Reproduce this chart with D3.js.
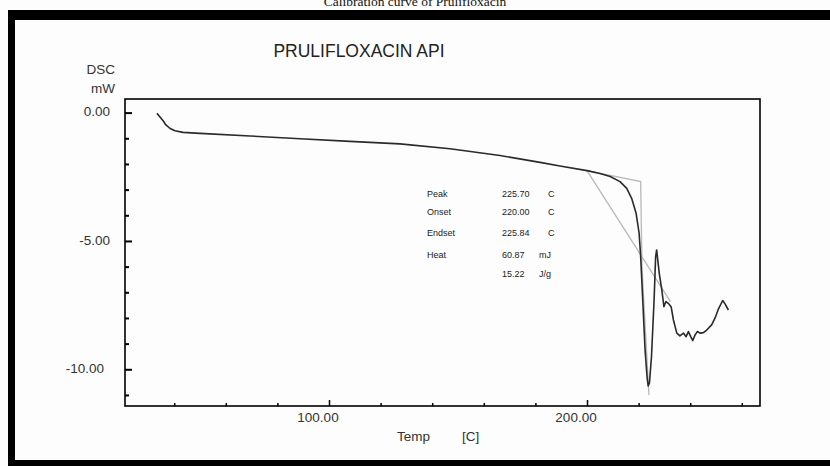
<!DOCTYPE html>
<html>
<head>
<meta charset="utf-8">
<script src="https://cdn.jsdelivr.net/npm/d3@7"></script>
<style>
  html, body { margin: 0; padding: 0; background: #fdfdfd; }
  svg { display: block; }
</style>
</head>
<body>
<svg id="chart" width="830" height="466"></svg>
<script>
// DSC thermogram: temperature (C) vs heat flow (mW)
const temps = [33.3, 34.5, 35.7, 36.8, 38.4, 40.3, 43.4, 50.0, 69.4, 88.8, 108.1, 127.5, 146.9, 166.3,
  181.8, 189.5, 200.0, 205.0, 209.0, 212.8, 215.4, 217.3, 219.0, 220.2, 220.8, 221.6, 222.5, 223.3,
  223.7, 224.2, 225.0, 226.0, 226.6, 227.0, 228.0, 229.0, 229.8, 230.6, 231.5, 232.6, 233.5, 234.8,
  236.0, 237.4, 238.4, 239.3, 240.2, 241.0, 241.9, 242.8, 243.8, 245.1, 246.4, 248.3, 249.6, 250.9,
  252.6, 253.5, 254.8];
const heatFlow = [-0.03, -0.17, -0.32, -0.48, -0.62, -0.71, -0.77, -0.81, -0.91, -1.02, -1.12, -1.22, -1.41, -1.67,
  -1.94, -2.08, -2.26, -2.37, -2.49, -2.69, -2.95, -3.34, -3.91, -4.70, -5.61, -7.30, -9.24, -10.33,
  -10.65, -10.53, -9.50, -7.30, -5.61, -5.35, -6.26, -6.91, -7.56, -7.36, -7.43, -7.56, -8.08, -8.59,
  -8.70, -8.59, -8.73, -8.53, -8.73, -8.88, -8.66, -8.53, -8.59, -8.57, -8.47, -8.27, -8.01, -7.66,
  -7.32, -7.45, -7.69];

// Construction lines used for onset / peak evaluation
const baselineTemps = [200.0, 220.8, 221.3, 224.0];
const baselineFlow = [-2.26, -2.69, -6.0, -11.0];
const tangentTemps = [200.0, 232.4];
const tangentFlow = [-2.26, -7.37];

// Axis ticks
const xMajorTicks = [100, 200];
const xMinorTicks = [40, 60, 80, 120, 140, 160, 180, 220, 240, 260];
const yMajorTicks = [0, -5, -10];
const yMinorTicks = [-1, -2, -3, -4, -6, -7, -8, -9, -11];

// Result table
const resultNames = ["Peak", "Onset", "Endset", "Heat", ""];
const resultValues = ["225.70", "220.00", "225.84", "60.87", "15.22"];
const resultUnits = ["C", "C", "C", "mJ", "J/g"];

const caption = "Calibration curve of Prulifloxacin";
const chartTitle = "PRULIFLOXACIN API";

const svg = d3.select("#chart");
const sans = "'Liberation Sans', Arial, sans-serif";

// Page background and scanned frame
svg.append("rect").attr("width", 830).attr("height", 466).attr("fill", "#fdfdfd");
svg.append("text")
  .attr("x", 415).attr("y", 5.5)
  .attr("text-anchor", "middle")
  .attr("font-family", "'Liberation Serif', 'Times New Roman', serif")
  .attr("font-size", 13.5)
  .attr("fill", "#111")
  .text(caption);
svg.append("rect").attr("x", 8).attr("y", 10).attr("width", 822).attr("height", 10).attr("fill", "#000");
svg.append("rect").attr("x", 8).attr("y", 10).attr("width", 7).attr("height", 456).attr("fill", "#000");
svg.append("rect").attr("x", 8).attr("y", 460).attr("width", 822).attr("height", 6).attr("fill", "#000");

// Plot area
const plot = { left: 125, right: 760, top: 99, bottom: 406 };
const x = d3.scaleLinear().domain([20.93, 267.05]).range([plot.left, plot.right]);
const y = d3.scaleLinear().domain([0.53, -11.43]).range([plot.top, plot.bottom]);

svg.append("text")
  .attr("x", 359).attr("y", 52)
  .attr("text-anchor", "middle").attr("dominant-baseline", "middle")
  .attr("font-family", sans).attr("font-size", 17.5).attr("fill", "#222")
  .text(chartTitle);

// Y axis title
svg.append("text").attr("x", 115).attr("y", 70)
  .attr("text-anchor", "end").attr("dominant-baseline", "middle")
  .attr("font-family", sans).attr("font-size", 13.5).attr("fill", "#333").text("DSC");
svg.append("text").attr("x", 115).attr("y", 89)
  .attr("text-anchor", "end").attr("dominant-baseline", "middle")
  .attr("font-family", sans).attr("font-size", 13.5).attr("fill", "#333").text("mW");

// Axes: ticks point into the plot
const yAxisMajor = d3.axisRight(y).tickValues(yMajorTicks).tickSize(7).tickFormat("");
const yAxisMinor = d3.axisRight(y).tickValues(yMinorTicks).tickSize(4).tickFormat("");
const xAxisMajor = d3.axisTop(x).tickValues(xMajorTicks).tickSize(6).tickFormat("");
const xAxisMinor = d3.axisTop(x).tickValues(xMinorTicks).tickSize(3).tickFormat("");

[yAxisMajor, yAxisMinor].forEach(ax => {
  const g = svg.append("g").attr("transform", `translate(${plot.left},0)`).call(ax);
  g.select(".domain").remove();
  g.selectAll("line").attr("stroke", "#000").attr("stroke-width", 2);
});
[xAxisMajor, xAxisMinor].forEach(ax => {
  const g = svg.append("g").attr("transform", `translate(0,${plot.bottom})`).call(ax);
  g.select(".domain").remove();
  g.selectAll("line").attr("stroke", "#000").attr("stroke-width", 1.5);
});

// Tick labels
svg.append("g").selectAll("text").data(yMajorTicks).join("text")
  .attr("x", d => d <= -10 ? 104 : 110)
  .attr("y", d => y(d))
  .attr("text-anchor", "end").attr("dominant-baseline", "middle")
  .attr("font-family", sans).attr("font-size", 13.5).attr("fill", "#333")
  .text(d => d3.format(".2f")(d).replace("−", "-"));
svg.append("g").selectAll("text").data(xMajorTicks).join("text")
  .attr("x", d => x(d) - 11)
  .attr("y", 418)
  .attr("text-anchor", "middle").attr("dominant-baseline", "middle")
  .attr("font-family", sans).attr("font-size", 13.5).attr("fill", "#333")
  .text(d => d3.format(".2f")(d));

// X axis title
svg.append("text").attr("x", 397).attr("y", 437).attr("dominant-baseline", "middle")
  .attr("font-family", sans).attr("font-size", 13.5).attr("fill", "#333").text("Temp");
svg.append("text").attr("x", 462).attr("y", 437).attr("dominant-baseline", "middle")
  .attr("font-family", sans).attr("font-size", 13.5).attr("fill", "#333").text("[C]");

// Construction lines
const line = d3.line().x(d => x(d[0])).y(d => y(d[1]));
svg.append("path")
  .datum(baselineTemps.map((t, i) => [t, baselineFlow[i]]))
  .attr("d", line).attr("fill", "none").attr("stroke", "#b8b8b8").attr("stroke-width", 1.3);
svg.append("path")
  .datum(tangentTemps.map((t, i) => [t, tangentFlow[i]]))
  .attr("d", line).attr("fill", "none").attr("stroke", "#b8b8b8").attr("stroke-width", 1.3);

// Thermogram
svg.append("path")
  .datum(temps.map((t, i) => [t, heatFlow[i]]))
  .attr("d", line).attr("fill", "none")
  .attr("stroke", "#2a2a2a").attr("stroke-width", 1.6)
  .attr("stroke-linejoin", "round");

// Plot frame
svg.append("rect")
  .attr("x", plot.left).attr("y", plot.top)
  .attr("width", plot.right - plot.left).attr("height", plot.bottom - plot.top)
  .attr("fill", "none").attr("stroke", "#000").attr("stroke-width", 1.6);

// Result table
const rowY = [195, 213, 234, 256, 275];
const table = svg.append("g")
  .attr("font-family", sans).attr("font-size", 9).attr("fill", "#222");
table.selectAll(".name").data(resultNames).join("text").attr("class", "name")
  .attr("x", 427).attr("y", (d, i) => rowY[i]).attr("dominant-baseline", "middle").text(d => d);
table.selectAll(".val").data(resultValues).join("text").attr("class", "val")
  .attr("x", 502).attr("y", (d, i) => rowY[i]).attr("dominant-baseline", "middle").text(d => d);
table.selectAll(".unit").data(resultUnits).join("text").attr("class", "unit")
  .attr("x", d => d === "C" ? 548 : 539).attr("y", (d, i) => rowY[i]).attr("dominant-baseline", "middle").text(d => d);
</script>
</body>
</html>
